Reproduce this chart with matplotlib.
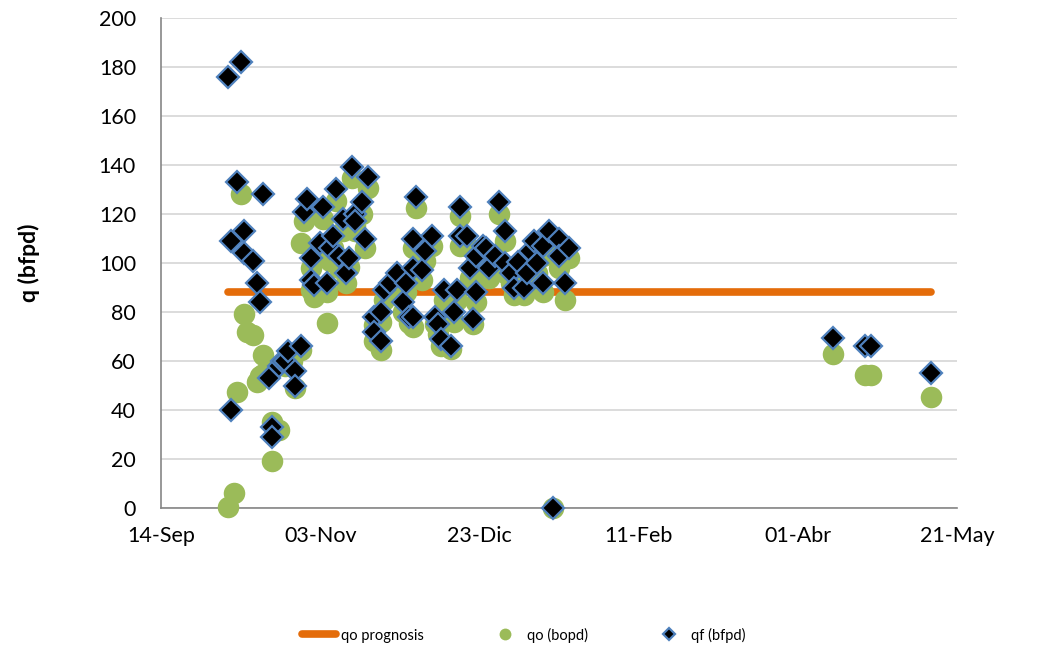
import matplotlib.pyplot as plt
import numpy as np

plt.rcParams['font.family'] = ['Lato', 'DejaVu Sans']

# Data (days counted from 14-Sep)
start = np.datetime64('2011-09-14')

prog_day = [21, 242]
prog_q = [88, 88]

qo_day = [21, 23, 24, 25, 26, 27, 29, 30, 31, 32, 32, 35, 35, 37, 39, 40, 41, 42, 44,
          44, 45, 46, 47, 47, 48, 50, 51, 52, 52, 53, 54, 55, 56, 57, 58, 59, 60, 61, 61,
          63, 64, 65, 67, 67, 69, 69, 70, 72, 74, 76, 77, 78, 79, 79, 79, 80, 82, 83, 85,
          86, 87, 88, 89, 91, 92, 93, 94, 94, 96, 97, 98, 99, 99, 101, 102, 103, 105, 106,
          108, 108, 110, 111, 112, 114, 115, 116, 117, 118, 120, 120, 122, 123, 125, 125,
          127, 128, 211, 221, 223, 242]
qo_bopd = [0.5, 6, 47.5, 128, 79, 72, 70.5, 51.5, 54, 62.5, 54.5, 35, 19, 32, 58, 62, 60, 49, 64.5,
           108, 117, 121, 98, 89, 86, 103, 118, 75.5, 88, 101, 106, 125.5, 98, 113, 92, 98.5, 134.5, 115, 113,
           120, 106, 130.5, 74.7, 68, 64.5, 76, 85, 88, 91, 80, 88, 75.4, 74, 94, 106, 122.5, 93, 101, 107,
           75, 71, 66, 85, 65, 76, 85, 107, 119, 107, 94, 75, 84, 99, 103, 102, 94, 99, 120,
           96, 109, 92, 87, 96, 87, 92, 101, 105, 96, 88, 103, 109, 0, 106, 97.8,
           85, 102, 63, 54.3, 54.3, 45.2]

qf_day = [21, 22, 22, 24, 25, 26, 26, 29, 30, 31, 32, 34, 35, 35, 37, 38, 39, 40, 42, 42,
          44, 45, 46, 47, 47, 48, 50, 51, 52, 53, 54, 55, 56, 57, 58, 59, 60, 61, 61, 63,
          64, 65, 67, 67, 69, 69, 70, 72, 74, 76, 77, 78, 79, 79, 79, 80, 82, 83, 85, 86,
          87, 88, 89, 91, 92, 93, 94, 94, 96, 97, 98, 99, 99, 101, 102, 103, 105, 106, 108,
          108, 110, 111, 112, 114, 115, 116, 117, 118, 120, 120, 122, 123, 125, 125, 127,
          128, 211, 221, 223, 242]
qf_bfpd = [176, 40, 109, 133, 182, 113, 104, 101, 92, 84, 128, 53, 33, 29, 58, 60, 60, 64, 56, 50,
           66, 121, 126, 102, 93, 91, 108, 123, 92, 106, 111, 130, 103, 118, 96, 102, 139, 120, 117, 125,
           110, 135, 78, 72, 68, 80, 89, 92, 96, 84, 92, 78, 78, 98, 110, 127, 97, 105, 111, 78,
           75, 69, 89, 66, 80, 89, 111, 123, 111, 98, 77, 88, 103, 107, 106, 98, 103, 125, 100,
           113, 96, 90, 100.5, 90, 96, 105, 109, 100, 92, 107, 113, 0, 110, 103, 92,
           106, 69.3, 66, 66, 55.2]

x_tick_day = [0, 50, 100, 150, 200, 250]
x_tick_labels = ['14-Sep', '03-Nov', '23-Dic', '11-Feb', '01-Abr', '21-May']

def to_date(days):
    return start + np.array(days).astype('timedelta64[D]')

fig = plt.figure(figsize=(10.37, 6.54), dpi=100)
ax = fig.add_axes([0.1553, 0.2232, 0.7675, 0.7493])

ax.plot(to_date(prog_day), prog_q, color='#E46C0A', linewidth=5.5,
        solid_capstyle='round', label='qo prognosis', zorder=2)
ax.plot(to_date(qo_day), qo_bopd, linestyle='none', marker='o', markersize=15.5,
        markerfacecolor='#9BBB59', markeredgecolor='#9BBB59', markeredgewidth=0,
        label='qo (bopd)', zorder=3, clip_on=False)
ax.plot(to_date(qf_day), qf_bfpd, linestyle='none', marker='D', markersize=10.8,
        markerfacecolor='black', markeredgecolor='#4F81BD', markeredgewidth=1.6,
        label='qf (bfpd)', zorder=4, clip_on=False)

ax.set_xlim(to_date([0])[0], to_date([250])[0])
ax.set_ylim(0, 200)
ax.set_yticks(range(0, 201, 20))
ax.set_xticks(to_date(x_tick_day))
ax.set_xticklabels(x_tick_labels)
ax.tick_params(axis='both', length=0, labelsize=15.5, colors='black')
ax.tick_params(axis='x', pad=13)
ax.tick_params(axis='y', pad=18)
ax.grid(True, axis='y', color='#D9D9D9', linewidth=1.3)
ax.set_axisbelow(True)
for s in ['top', 'right']:
    ax.spines[s].set_visible(False)
for s in ['left', 'bottom']:
    ax.spines[s].set_color('#868686')
    ax.spines[s].set_linewidth(1.2)
ax.set_ylabel('q (bfpd)', fontsize=16.5, fontweight='bold', labelpad=42)

handles, labels = ax.get_legend_handles_labels()
leg = fig.legend(handles, labels, loc='center', bbox_to_anchor=(0.505, 0.029), ncol=3,
                 frameon=False, fontsize=10.5, handlelength=2.3, handletextpad=0.35,
                 columnspacing=4.4, markerscale=0.55)

fig.savefig('out.png', dpi=100)
